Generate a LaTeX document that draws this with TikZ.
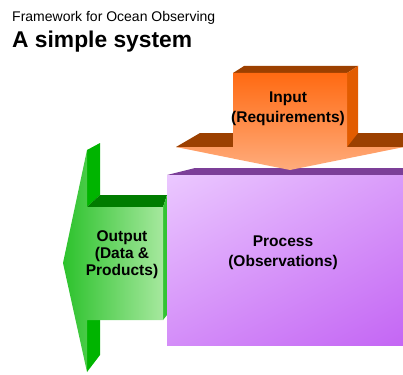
\documentclass[tikz,border=0pt]{standalone}
\usepackage{fontspec}
\setmainfont{Liberation Sans}
\usepackage{xcolor}
\usepackage{tikz}
\usetikzlibrary{
  positioning,
  calc,
  shadings
}

\definecolor{inFront}{HTML}{FF6A12}
\definecolor{inLight}{HTML}{FFAC7C}
\definecolor{inSide}{HTML}{E25C00}
\definecolor{inTop}{HTML}{9C4000}
\definecolor{procLight}{HTML}{EBC8FF}
\definecolor{procDark}{HTML}{C466F4}
\definecolor{procTop}{HTML}{7C3F98}
\definecolor{outDark}{HTML}{2CC22C}
\definecolor{outLight}{HTML}{A6E89E}
\definecolor{outSide}{HTML}{00B400}
\definecolor{outTop}{HTML}{007C00}

\begin{document}
\begin{tikzpicture}[
  x=1pt, y=-1pt,
  label/.style={
    align=center,
    text=black,
    inner sep=0pt,
    font=\bfseries\fontsize{15.5}{20}\selectfont
  },
  headline/.style={
    anchor=base west,
    inner sep=0pt
  },
  face/.style={
    draw=none
  }
]
\useasboundingbox (0,0) rectangle (403,374);

% Titles
\node[headline, font=\fontsize{14}{16}\selectfont] (framework) at (12,22) {Framework for Ocean Observing};
\node[headline, font=\bfseries\fontsize{22.8}{26}\selectfont] (heading) at (12,48) {A simple system};

% Output arrow (behind the process box)
\fill[face, outSide] (87,150) -- (100,143) -- (100,195) -- (87,207) -- cycle;
\fill[face, outSide] (87,320) -- (100,320) -- (100,355) -- (87,372) -- cycle;
\fill[face, outTop] (87,207) -- (100,195) -- (167,195) -- (163,207) -- cycle;
\fill[face, outSide!80!white] (163,207) -- (167,195) -- (167,315) -- (163,320) -- cycle;
\shade[face, left color=outDark, right color=outLight]
  (87,150) -- (63,263) -- (87,372) -- (87,320) -- (163,320) -- (163,207) -- (87,207) -- cycle;

% Process box
\fill[face, procTop] (167,175) -- (195,168) -- (403,168) -- (403,175) -- cycle;
\shade[face, upper left=procLight, upper right=procDark!45!procLight,
  lower left=procDark!60!procLight, lower right=procDark]
  (167,175) rectangle (403,345);

% Input arrow (in front)
\fill[face, inTop] (176,147) -- (200,133) -- (403,133) -- (403,147) -- cycle;
\fill[face, inTop] (233,73) -- (244,66) -- (358,66) -- (347,73) -- cycle;
\fill[face, inSide] (347,73) -- (358,66) -- (358,133) -- (347,147) -- cycle;
\shade[face, top color=inFront, bottom color=inLight]
  (233,73) -- (347,73) -- (347,147) -- (404,147) -- (290,170) -- (176,147) -- (233,147) -- cycle;

% Labels
\node[label] (input) at (288,109) {Input\\(Requirements)};
\node[label] (process) at (283,253) {Process\\(Observations)};
\node[label, font=\bfseries\fontsize{15.5}{17}\selectfont] (output) at (122,255) {Output\\(Data \&\\Products)};

\end{tikzpicture}
\end{document}
